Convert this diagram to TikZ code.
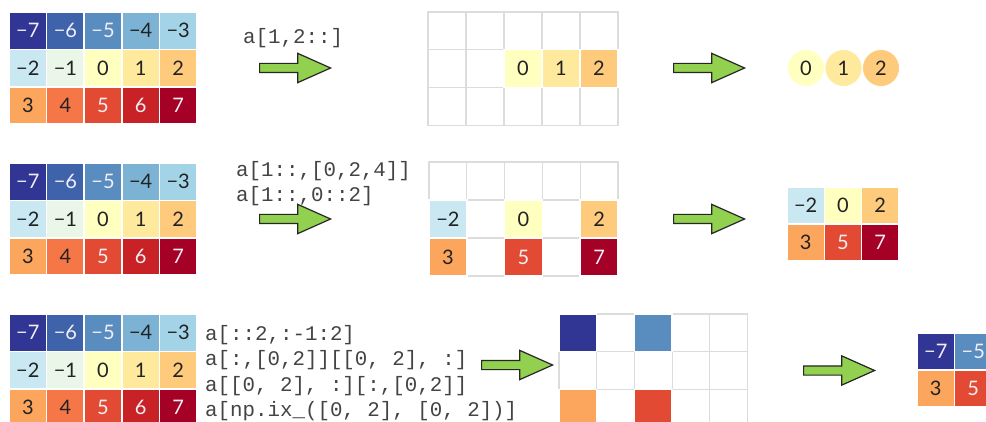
\documentclass[tikz,border=0pt]{standalone}
\usepackage{fontspec}
\setmainfont{Lato}
\setmonofont{Liberation Mono}
\newfontfamily\numfont{Lato}
\usetikzlibrary{shapes.arrows}
\definecolor{col0}{HTML}{313695}
\definecolor{col1}{HTML}{3F63AB}
\definecolor{col2}{HTML}{598DC0}
\definecolor{col3}{HTML}{7CB3D4}
\definecolor{col4}{HTML}{A3D3E6}
\definecolor{col5}{HTML}{C9E8F2}
\definecolor{col6}{HTML}{E9F6E8}
\definecolor{col7}{HTML}{FFFFBF}
\definecolor{col8}{HTML}{FEE99D}
\definecolor{col9}{HTML}{FECB7C}
\definecolor{col10}{HTML}{FCA55D}
\definecolor{col11}{HTML}{F57647}
\definecolor{col12}{HTML}{E34A33}
\definecolor{col13}{HTML}{C92226}
\definecolor{col14}{HTML}{A50026}
\definecolor{lt}{HTML}{F2EEF6}
\definecolor{dk}{HTML}{222222}
\definecolor{gridgray}{HTML}{DCDCDC}
\definecolor{arrowgreen}{HTML}{92D050}
\definecolor{codegray}{HTML}{444444}
\tikzset{
  cell/.style={rectangle, draw=white, line width=1.5pt, inner sep=0pt,
    font=\numfont\fontsize{20}{20}\selectfont},
  ecell/.style={rectangle, draw=gridgray, fill=white, line width=1.1pt, inner sep=0pt},
  dot/.style={circle, draw=white, line width=0.8pt, inner sep=0pt, minimum size=37pt,
    text=dk, font=\numfont\fontsize{20}{20}\selectfont},
  garrow/.style={single arrow, draw=black!85, fill=arrowgreen, line width=1.2pt,
    single arrow head extend=10pt, single arrow tip angle=48,
    single arrow head indent=0pt, minimum height=71pt, inner xsep=0pt, inner ysep=4pt,
    text height=0pt, text depth=0pt, text width=0pt, anchor=tail},
  code/.style={anchor=west, inner sep=0pt, text=codegray,
    font=\ttfamily\fontsize{20.8}{20.8}\selectfont}
}
\begin{document}
\begin{tikzpicture}[x=1pt,y=-1pt]
\clip (0,0) rectangle (986,422);
\fill[white] (0,0) rectangle (986,422);
% full colored grids
\foreach \gname/\gx/\gy in {A/9/12, B/9/163, C/9/314}{
  \foreach \k/\lab/\tc in {0/−7/lt,1/−6/lt,2/−5/lt,3/−4/dk,4/−3/dk,5/−2/dk,6/−1/dk,7/0/dk,
                           8/1/dk,9/2/dk,10/3/dk,11/4/dk,12/5/lt,13/6/lt,14/7/lt}{
    \pgfmathtruncatemacro\r{div(\k,5)}
    \pgfmathtruncatemacro\c{mod(\k,5)}
    \node[cell, fill=col\k, text=\tc, minimum width=37.6pt, minimum height=37.4pt]
      (\gname-\r-\c) at ({\gx+(\c+0.5)*37.6}, {\gy+(\r+0.5)*37.4}) {\lab};
  }
}
% empty gray grids
\foreach \gname/\gx/\gy/\gw/\gh in {M/428/12/38/37.7, N/429/162/37.8/38, P/559/314/37.7/37.7}{
  \foreach \r in {0,1,2}{
    \foreach \c in {0,...,4}{
      \node[ecell, minimum width=\gw pt, minimum height=\gh pt]
        (\gname-e\r-\c) at ({\gx+(\c+0.5)*\gw}, {\gy+(\r+0.5)*\gh}) {};
    }
  }
}
% selected cells in grid M
\foreach \r/\c/\k/\lab/\tc in {1/2/7/0/dk, 1/3/8/1/dk, 1/4/9/2/dk}{
  \node[cell, fill=col\k, text=\tc, minimum width=38pt, minimum height=37.7pt]
    (M-\r-\c) at ({428+(\c+0.5)*38}, {12+(\r+0.5)*37.7}) {\lab};
}
% selected cells in grid N
\foreach \r/\c/\k/\lab/\tc in {1/0/5/−2/dk, 1/2/7/0/dk, 1/4/9/2/dk, 2/0/10/3/dk, 2/2/12/5/lt, 2/4/14/7/lt}{
  \node[cell, fill=col\k, text=\tc, minimum width=37.8pt, minimum height=38pt]
    (N-\r-\c) at ({429+(\c+0.5)*37.8}, {162+(\r+0.5)*38}) {\lab};
}
% selected cells in grid P
\foreach \r/\c/\k in {0/0/0, 0/2/2, 2/0/10, 2/2/12}{
  \node[cell, fill=col\k, minimum width=37.7pt, minimum height=37.7pt]
    (P-\r-\c) at ({559+(\c+0.5)*37.7}, {314+(\r+0.5)*37.7}) {};
}
% result of row 1: circles
\node[dot, fill=col7] (o0) at (806,68) {0};
\node[dot, fill=col8] (o1) at (843.5,68) {1};
\node[dot, fill=col9] (o2) at (881,68) {2};
% result of row 2
\foreach \r/\c/\k/\lab/\tc in {0/0/5/−2/dk, 0/1/7/0/dk, 0/2/9/2/dk, 1/0/10/3/dk, 1/1/12/5/lt, 1/2/14/7/lt}{
  \node[cell, fill=col\k, text=\tc, minimum width=37.3pt, minimum height=37pt]
    (R-\r-\c) at ({787+(\c+0.5)*37.3}, {187+(\r+0.5)*37}) {\lab};
}
% result of row 3
\foreach \r/\c/\k/\lab/\tc in {0/0/0/−7/lt, 0/1/2/−5/lt, 1/0/10/3/dk, 1/1/12/5/lt}{
  \node[cell, fill=col\k, text=\tc, minimum width=37.5pt, minimum height=37pt]
    (S-\r-\c) at ({917+(\c+0.5)*37.5}, {333+(\r+0.5)*37}) {\lab};
}
% code labels
\node[code] (t1) at (243,38.5) {a[1,2::]};
\node[code] (t2a) at (236,171.5) {a[1::,[0,2,4]]};
\node[code] (t2b) at (236,196.5) {a[1::,0::2]};
\node[code] (t3a) at (205,335) {a[::2,:-1:2]};
\node[code] (t3b) at (205,360) {a[:,[0,2]][[0, 2], :]};
\node[code] (t3c) at (205,386) {a[[0, 2], :][:,[0,2]]};
\node[code] (t3d) at (205,411.5) {a[np.ix\_([0, 2], [0, 2])]};
% block arrows
\node[garrow] (ar1) at (259,68) {};
\node[garrow] (ar2) at (673,68) {};
\node[garrow] (ar3) at (259,219) {};
\node[garrow] (ar4) at (673,219) {};
\node[garrow] (ar5) at (481,365) {};
\node[garrow] (ar6) at (803,370.5) {};
\end{tikzpicture}
\end{document}
